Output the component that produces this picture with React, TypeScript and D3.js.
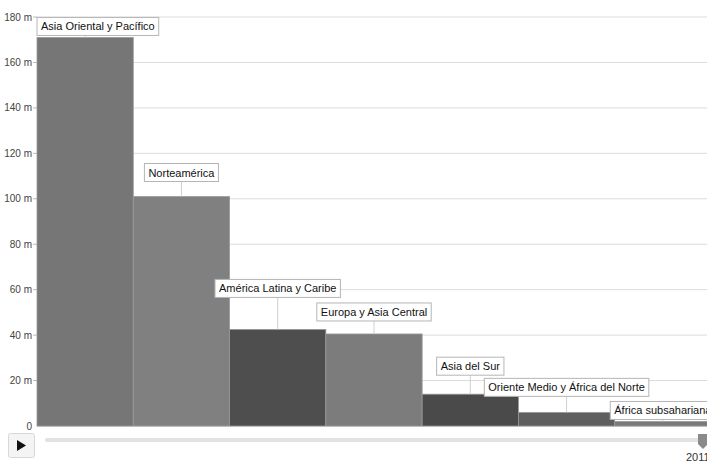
import React, { useEffect, useRef } from 'react'
import * as d3 from 'd3'

const regions = [
  'Asia Oriental y Pacífico',
  'Norteamérica',
  'América Latina y Caribe',
  'Europa y Asia Central',
  'Asia del Sur',
  'Oriente Medio y África del Norte',
  'África subsahariana',
]
const values = [171, 101, 42.5, 40.5, 14, 6, 2]
const barColors = ['#767676', '#808080', '#4e4e4e', '#7c7c7c', '#4a4a4a', '#5e5e5e', '#7a7a7a']
// gap in px between label box and bar top (label placement)
const labelLift = [2, 15, 32, 13, 19, 16, 2]
const yTicks = [0, 20, 40, 60, 80, 100, 120, 140, 160, 180]
const year = '2011'

const W = 707
const H = 462

export default function App() {
  const ref = useRef<SVGSVGElement | null>(null)

  useEffect(() => {
    const svg = d3.select(ref.current)
    svg.selectAll('*').remove()

    const x = d3.scaleBand<string>().domain(regions).range([37, 711]).padding(0)
    const y = d3.scaleLinear().domain([0, 180]).range([426, 17])

    const font = 'Liberation Sans, Arial, sans-serif'

    // grid
    svg.append('g')
      .selectAll('line')
      .data(yTicks.filter(d => d > 0))
      .join('line')
      .attr('x1', 37).attr('x2', W)
      .attr('y1', d => y(d)).attr('y2', d => y(d))
      .attr('stroke', '#dcdcdc')
      .attr('stroke-width', 1)

    // axis labels
    const ax = svg.append('g').attr('font-family', font).attr('font-size', 10).attr('fill', '#444')
    ax.selectAll('text')
      .data(yTicks)
      .join('text')
      .attr('x', 32)
      .attr('y', d => y(d) + 3.5)
      .attr('text-anchor', 'end')
      .text(d => d === 0 ? '0' : `${d} m`)
    ax.selectAll('line')
      .data(yTicks.filter(d => d > 0))
      .join('line')
      .attr('x1', 33).attr('x2', 37)
      .attr('y1', d => y(d)).attr('y2', d => y(d))
      .attr('stroke', '#bbb')

    // bars
    svg.append('g')
      .selectAll('rect')
      .data(values)
      .join('rect')
      .attr('x', (d, i) => x(regions[i])!)
      .attr('y', d => y(d))
      .attr('width', x.bandwidth())
      .attr('height', d => y(0) - y(d))
      .attr('fill', (d, i) => barColors[i])
      .attr('stroke', '#9a9a9a')
      .attr('stroke-width', 0.8)

    // baseline
    svg.append('line')
      .attr('x1', 37).attr('x2', W)
      .attr('y1', y(0) + 0.5).attr('y2', y(0) + 0.5)
      .attr('stroke', '#bdbdbd')

    // labels
    const lg = svg.append('g').attr('font-family', font).attr('font-size', 11).attr('fill', '#111')
    values.forEach((v, i) => {
      const cx = x(regions[i])! + x.bandwidth() / 2
      const t = lg.append('text').text(regions[i]).attr('y', 0)
      const tw = (t.node() as SVGTextElement).getComputedTextLength()
      const bw = tw + 8
      const bh = 18
      let left = cx - bw / 2
      if (left < 37) left = 37
      const bottom = y(v) - labelLift[i]
      lg.insert('line', 'text')
        .attr('x1', cx).attr('x2', cx)
        .attr('y1', bottom).attr('y2', y(v))
        .attr('stroke', '#cfcfcf')
      lg.insert('rect', 'text')
        .attr('x', left).attr('y', bottom - bh)
        .attr('width', bw).attr('height', bh)
        .attr('fill', '#fff')
        .attr('stroke', '#b5b5b5')
      t.attr('x', left + 4).attr('y', bottom - 5)
    })

    // play button
    svg.append('rect')
      .attr('x', 8.5).attr('y', 433.5).attr('width', 26).attr('height', 24).attr('rx', 2)
      .attr('fill', '#f4f4f4').attr('stroke', '#d8d8d8')
    svg.append('path')
      .attr('d', 'M17,440 L26,445.5 L17,451 Z')
      .attr('fill', '#111')

    // slider
    svg.append('rect')
      .attr('x', 45).attr('y', 438).attr('width', W - 45).attr('height', 4).attr('rx', 2)
      .attr('fill', '#e2e2e2')
    svg.append('path')
      .attr('d', 'M698,434 L708,434 L708,444 L703,449 L698,444 Z')
      .attr('fill', '#8a8a8a')
    svg.append('text')
      .attr('x', 686).attr('y', 461)
      .attr('font-family', font).attr('font-size', 11).attr('fill', '#333')
      .text(year)
  }, [])

  return (
    <svg ref={ref} width={W} height={H}
      style={{ position: 'absolute', left: 0, top: 0, background: '#fff' }} />
  )
}
